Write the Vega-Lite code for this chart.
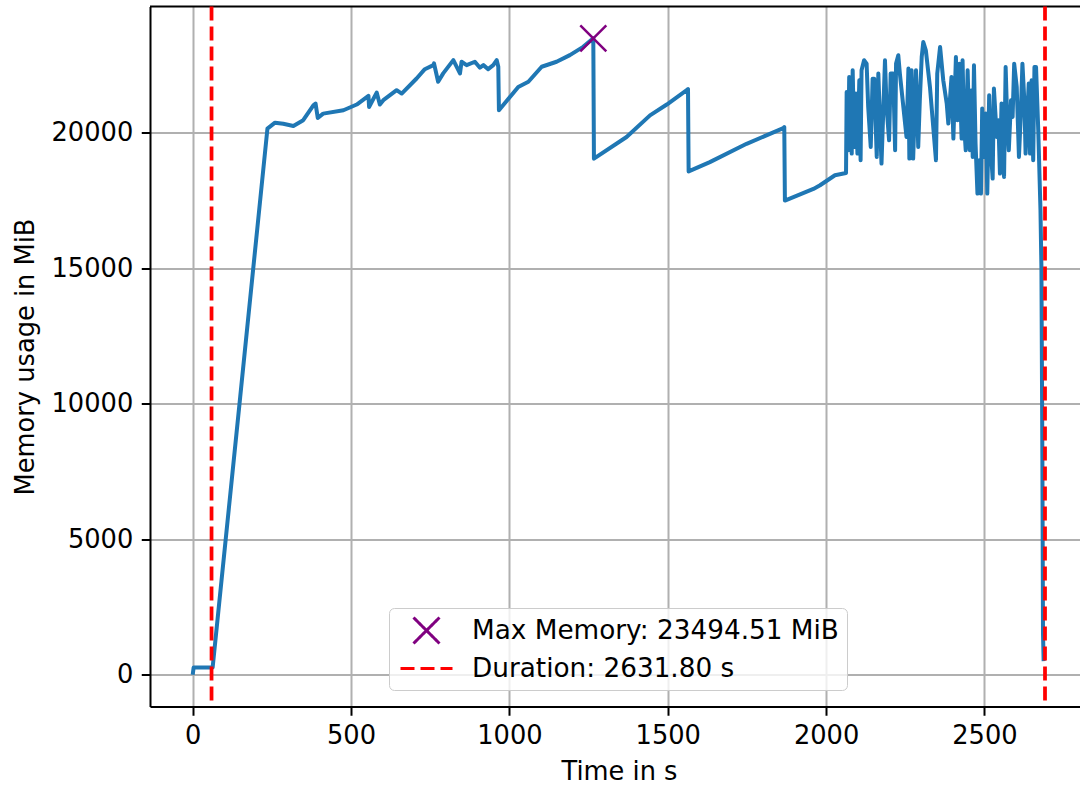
{
  "$schema": "https://vega.github.io/schema/vega-lite/v6.json",
  "width": 930,
  "height": 700,
  "autosize": {"type": "none"},
  "padding": {"left": 150, "top": 6.5, "right": 0, "bottom": 80.5},
  "background": "white",
  "config": {
    "font": "DejaVu Sans",
    "view": {"stroke": null},
    "legend": {
      "labelFont": "DejaVu Sans",
      "labelFontSize": 26.3,
      "labelColor": "black",
      "labelLimit": 0,
      "symbolSize": 676,
      "symbolStrokeWidth": 3,
      "fillColor": "rgba(255,255,255,0.8)",
      "strokeColor": "#cccccc",
      "cornerRadius": 5,
      "padding": 8,
      "rowPadding": 4,
      "labelOffset": 31,
      "symbolOffset": 15
    }
  },
  "datasets": {
    "mem": [
      {"t": 0, "mem": 0}, {"t": 3, "mem": 266}, {"t": 63, "mem": 266}, {"t": 150, "mem": 10250},
      {"t": 236, "mem": 20160}, {"t": 260, "mem": 20380}, {"t": 286, "mem": 20340}, {"t": 318, "mem": 20260},
      {"t": 349, "mem": 20470}, {"t": 381, "mem": 21020}, {"t": 388, "mem": 21085}, {"t": 395, "mem": 20555},
      {"t": 412, "mem": 20715}, {"t": 476, "mem": 20840}, {"t": 518, "mem": 21050}, {"t": 555, "mem": 21370},
      {"t": 557, "mem": 20960}, {"t": 581, "mem": 21490}, {"t": 591, "mem": 21050}, {"t": 602, "mem": 21210},
      {"t": 644, "mem": 21580}, {"t": 660, "mem": 21455}, {"t": 707, "mem": 22010}, {"t": 733, "mem": 22355},
      {"t": 760, "mem": 22505}, {"t": 762, "mem": 22570}, {"t": 775, "mem": 21890}, {"t": 791, "mem": 22200},
      {"t": 823, "mem": 22690}, {"t": 844, "mem": 22200}, {"t": 849, "mem": 22630}, {"t": 865, "mem": 22505},
      {"t": 891, "mem": 22630}, {"t": 907, "mem": 22410}, {"t": 918, "mem": 22505}, {"t": 933, "mem": 22355},
      {"t": 949, "mem": 22505}, {"t": 960, "mem": 22690}, {"t": 965, "mem": 22445}, {"t": 967, "mem": 20840},
      {"t": 1028, "mem": 21700}, {"t": 1060, "mem": 21890}, {"t": 1102, "mem": 22445}, {"t": 1149, "mem": 22630},
      {"t": 1191, "mem": 22875}, {"t": 1233, "mem": 23180}, {"t": 1265, "mem": 23494.51}, {"t": 1267, "mem": 19050},
      {"t": 1370, "mem": 19850}, {"t": 1444, "mem": 20650}, {"t": 1497, "mem": 21050}, {"t": 1560, "mem": 21580},
      {"t": 1564, "mem": 21620}, {"t": 1566, "mem": 18580}, {"t": 1633, "mem": 18925}, {"t": 1749, "mem": 19600},
      {"t": 1865, "mem": 20180}, {"t": 1868, "mem": 20220}, {"t": 1870, "mem": 17505}, {"t": 1960, "mem": 17935},
      {"t": 1981, "mem": 18069}, {"t": 2028, "mem": 18438}, {"t": 2063, "mem": 18520}, {"t": 2065, "mem": 21515},
      {"t": 2070, "mem": 19361}, {"t": 2073, "mem": 22068}, {"t": 2081, "mem": 19238}, {"t": 2084, "mem": 22314},
      {"t": 2089, "mem": 19484}, {"t": 2094, "mem": 21453}, {"t": 2099, "mem": 19238}, {"t": 2105, "mem": 21945},
      {"t": 2109, "mem": 18992}, {"t": 2112, "mem": 22314}, {"t": 2120, "mem": 22683}, {"t": 2128, "mem": 22560},
      {"t": 2133, "mem": 20961}, {"t": 2141, "mem": 19484}, {"t": 2147, "mem": 22006}, {"t": 2152, "mem": 22006},
      {"t": 2160, "mem": 19115}, {"t": 2165, "mem": 22191}, {"t": 2175, "mem": 18869}, {"t": 2186, "mem": 22683},
      {"t": 2191, "mem": 20961}, {"t": 2199, "mem": 19730}, {"t": 2204, "mem": 22191}, {"t": 2212, "mem": 22191},
      {"t": 2218, "mem": 19361}, {"t": 2221, "mem": 22560}, {"t": 2228, "mem": 22868}, {"t": 2233, "mem": 22191},
      {"t": 2254, "mem": 19853}, {"t": 2260, "mem": 22376}, {"t": 2263, "mem": 19053}, {"t": 2270, "mem": 22314},
      {"t": 2275, "mem": 19053}, {"t": 2284, "mem": 22314}, {"t": 2291, "mem": 19484}, {"t": 2296, "mem": 21207},
      {"t": 2302, "mem": 22806}, {"t": 2307, "mem": 23360}, {"t": 2315, "mem": 23053}, {"t": 2328, "mem": 21699},
      {"t": 2347, "mem": 18992}, {"t": 2351, "mem": 22191}, {"t": 2360, "mem": 23176}, {"t": 2370, "mem": 21945},
      {"t": 2381, "mem": 21084}, {"t": 2386, "mem": 20346}, {"t": 2396, "mem": 22068}, {"t": 2402, "mem": 19792},
      {"t": 2410, "mem": 22806}, {"t": 2415, "mem": 20469}, {"t": 2421, "mem": 22560}, {"t": 2428, "mem": 19792},
      {"t": 2431, "mem": 22683}, {"t": 2435, "mem": 20469}, {"t": 2441, "mem": 19361}, {"t": 2447, "mem": 22314},
      {"t": 2454, "mem": 19361}, {"t": 2460, "mem": 21576}, {"t": 2463, "mem": 19115}, {"t": 2467, "mem": 22499},
      {"t": 2472, "mem": 19607}, {"t": 2478, "mem": 17761}, {"t": 2484, "mem": 18992}, {"t": 2489, "mem": 17761},
      {"t": 2493, "mem": 20899}, {"t": 2499, "mem": 19115}, {"t": 2504, "mem": 20715}, {"t": 2509, "mem": 17761},
      {"t": 2515, "mem": 21392}, {"t": 2521, "mem": 19238}, {"t": 2526, "mem": 18315}, {"t": 2530, "mem": 21638},
      {"t": 2539, "mem": 19853}, {"t": 2544, "mem": 20469}, {"t": 2549, "mem": 18500}, {"t": 2554, "mem": 21084},
      {"t": 2562, "mem": 18377}, {"t": 2567, "mem": 22437}, {"t": 2572, "mem": 20469}, {"t": 2577, "mem": 19361},
      {"t": 2584, "mem": 21207}, {"t": 2589, "mem": 20592}, {"t": 2594, "mem": 22560}, {"t": 2602, "mem": 21699},
      {"t": 2609, "mem": 19115}, {"t": 2615, "mem": 20715}, {"t": 2620, "mem": 22560}, {"t": 2626, "mem": 21207},
      {"t": 2630, "mem": 19238}, {"t": 2635, "mem": 20592}, {"t": 2640, "mem": 21822}, {"t": 2644, "mem": 19238},
      {"t": 2649, "mem": 21945}, {"t": 2654, "mem": 18992}, {"t": 2658, "mem": 22437}, {"t": 2663, "mem": 22437},
      {"t": 2670, "mem": 20099}, {"t": 2677, "mem": 17146}, {"t": 2680, "mem": 15000}, {"t": 2683, "mem": 8000},
      {"t": 2685, "mem": 1500}, {"t": 2687, "mem": 500}
    ]
  },
  "layer": [
    {
      "data": {"name": "mem"},
      "mark": {"type": "line", "color": "#1f77b4", "strokeWidth": 4, "strokeJoin": "round", "strokeCap": "butt"},
      "encoding": {
        "x": {
          "field": "t", "type": "quantitative",
          "scale": {"domain": [-134.8, 2801.8], "nice": false, "zero": false},
          "axis": {
            "values": [0, 500, 1000, 1500, 2000, 2500], "format": "d",
            "grid": true, "gridColor": "#b0b0b0", "gridWidth": 2,
            "domainColor": "black", "domainWidth": 2,
            "tickColor": "black", "tickWidth": 2, "tickSize": 8.75,
            "labelPadding": 8.5, "labelFontSize": 25.7, "labelColor": "black", "labelFont": "DejaVu Sans",
            "labelFlush": false, "labelOverlap": false,
            "title": "Time in s", "titleFontSize": 25.7, "titleFontWeight": "normal", "titleColor": "black",
            "titleFont": "DejaVu Sans", "titlePadding": 11, "titleX": 469
          }
        },
        "y": {
          "field": "mem", "type": "quantitative",
          "scale": {"domain": [-1174.7, 24669.2], "nice": false, "zero": false},
          "axis": {
            "values": [0, 5000, 10000, 15000, 20000], "format": "d",
            "grid": true, "gridColor": "#b0b0b0", "gridWidth": 2,
            "domainColor": "black", "domainWidth": 2,
            "tickColor": "black", "tickWidth": 2, "tickSize": 8.75,
            "labelPadding": 8.5, "labelFontSize": 25.7, "labelColor": "black", "labelFont": "DejaVu Sans",
            "labelFlush": false, "labelOverlap": false,
            "title": "Memory usage in MiB", "titleFontSize": 25.7, "titleFontWeight": "normal", "titleColor": "black",
            "titleFont": "DejaVu Sans", "titlePadding": 13
          }
        }
      }
    },
    {
      "data": {"values": [{"top": 24669.2}]},
      "mark": {"type": "rule", "color": "black", "strokeWidth": 2},
      "encoding": {
        "y": {"field": "top", "type": "quantitative"}
      }
    },
    {
      "data": {"values": [
        {"t": 59.5, "label": "Duration: 2631.80 s"},
        {"t": 2691.3, "label": "Duration: 2631.80 s"}
      ]},
      "mark": {"type": "rule", "strokeWidth": 3.75},
      "encoding": {
        "x": {"field": "t", "type": "quantitative"},
        "color": {
          "field": "label", "type": "nominal",
          "scale": {"domain": ["Max Memory: 23494.51 MiB", "Duration: 2631.80 s"], "range": ["#800080", "#ff0000"]},
          "legend": {"orient": "none", "legendX": 239, "legendY": 601.5, "title": null}
        },
        "strokeDash": {
          "field": "label", "type": "nominal",
          "scale": {"domain": ["Max Memory: 23494.51 MiB", "Duration: 2631.80 s"], "range": [[1, 0], [14, 6]]},
          "legend": {"orient": "none", "legendX": 239, "legendY": 601.5, "title": null}
        }
      }
    },
    {
      "data": {"values": [
        {"t": 1265, "mem": 23494.51, "label": "Max Memory: 23494.51 MiB"}
      ]},
      "mark": {"type": "point", "filled": false, "size": 676, "strokeWidth": 2.5, "opacity": 1},
      "encoding": {
        "x": {"field": "t", "type": "quantitative"},
        "y": {"field": "mem", "type": "quantitative"},
        "color": {
          "field": "label", "type": "nominal",
          "scale": {"domain": ["Max Memory: 23494.51 MiB", "Duration: 2631.80 s"], "range": ["#800080", "#ff0000"]},
          "legend": {"orient": "none", "legendX": 239, "legendY": 601.5, "title": null}
        },
        "shape": {
          "field": "label", "type": "nominal",
          "scale": {"domain": ["Max Memory: 23494.51 MiB", "Duration: 2631.80 s"], "range": ["M-1,-1L1,1M-1,1L1,-1", "M-2,0L2,0"]},
          "legend": {"orient": "none", "legendX": 239, "legendY": 601.5, "title": null}
        }
      }
    }
  ]
}
